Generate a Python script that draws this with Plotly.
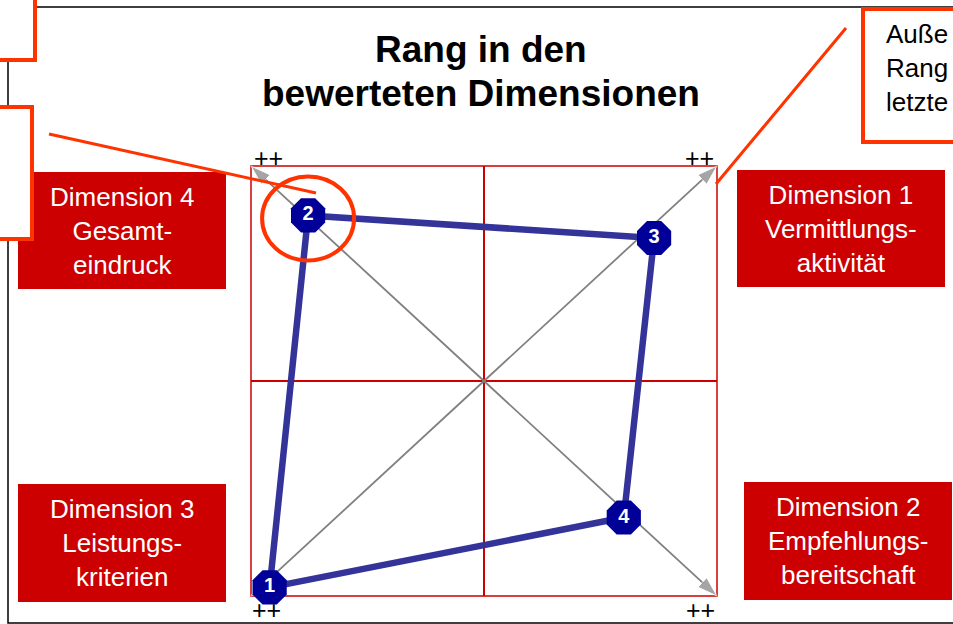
import plotly.graph_objects as go

# Rang je Dimension – Lage im Diagramm (Achsen -1 .. 1, Mitte = 0)
rank_labels = ['1', '2', '3', '4']
rank_x = [-0.92, -0.755, 0.73, 0.60]
rank_y = [-0.96, 0.77, 0.665, -0.635]

# Diagonale Achsen (Ecken des Quadrats)
corner_x = [-1, 1, 1, -1]
corner_y = [1, 1, -1, -1]
corner_marks = ['++', '++', '++', '++']

dim_titles = ['Dimension 1', 'Dimension 2', 'Dimension 3', 'Dimension 4']
dim_names = ['Vermittlungs-<br>aktivität', 'Empfehlungs-<br>bereitschaft',
             'Leistungs-<br>kriterien', 'Gesamt-<br>eindruck']

title_lines = ['Rang in den', 'bewerteten Dimensionen']
callout_text = 'Auße<br>Rang<br>letzte'

FONT = 'Arial, Liberation Sans, sans-serif'
RED = '#CC0000'
ORANGE = '#FF3300'

# Seitenmaß und Lage des Quadrats (Pixel)
W, H = 953, 624
L, R, T, B = 251, 717, 166, 596


def px(x):
    return (x - L) / (R - L)


def py(y):
    return (B - y) / (B - T)


def rect(x0, y0, x1, y1, **kw):
    return dict(type='rect', xref='paper', yref='paper',
                x0=px(x0), x1=px(x1), y0=py(y1), y1=py(y0), **kw)


fig = go.Figure()

# Diagonalen mit Pfeilspitzen
for cx, cy in zip(corner_x, corner_y):
    fig.add_trace(go.Scatter(
        x=[0, cx], y=[0, cy], mode='lines+markers',
        line=dict(color='#808080', width=1.8),
        marker=dict(symbol='arrow', size=[0, 21], angleref='previous',
                    color='#808080'),
        cliponaxis=False, hoverinfo='skip',
    ))

# Verbindungslinie der Ränge
fig.add_trace(go.Scatter(
    x=rank_x + rank_x[:1], y=rank_y + rank_y[:1], mode='lines',
    line=dict(color='#333399', width=6.5),
    cliponaxis=False, hoverinfo='skip',
))

# Rang-Marker
fig.add_trace(go.Scatter(
    x=rank_x, y=rank_y, mode='markers+text',
    text=rank_labels, textposition='middle center',
    textfont=dict(color='white', size=20, family=FONT, weight='bold'),
    marker=dict(symbol='octagon', size=37, color='#000099', line=dict(width=0)),
    cliponaxis=False, hoverinfo='skip',
))

shapes = [
    # äußerer Rahmen
    rect(8, 7, 1000, 623, line=dict(color='black', width=1.5), layer='below'),
    # Quadrat + Mittellinien
    dict(type='rect', xref='paper', yref='paper', x0=0, x1=1, y0=0, y1=1,
         line=dict(color=RED, width=1.5), layer='below'),
    dict(type='line', xref='x', yref='paper', x0=0, x1=0, y0=0, y1=1,
         line=dict(color=RED, width=2), layer='below'),
    dict(type='line', xref='paper', yref='y', x0=0, x1=1, y0=0, y1=0,
         line=dict(color=RED, width=2), layer='below'),
]

# rote Dimensionskästen
dim_boxes = [(737, 170, 945, 287), (744, 482, 952, 600),
             (18, 484, 226, 602), (18, 172, 226, 289)]
for x0, y0, x1, y1 in dim_boxes:
    shapes.append(rect(x0, y0, x1, y1, fillcolor=RED, line=dict(width=0)))

# Hinweiskästen (angeschnitten)
for x0, y0, x1, y1 in [(-20, -20, 35, 60), (-20, 107, 32, 239), (863, 9, 1000, 142)]:
    shapes.append(rect(x0, y0, x1, y1, fillcolor='white',
                       line=dict(color=ORANGE, width=4)))

# Hinweislinien
for x0, y0, x1, y1 in [(49, 134, 316, 193), (846, 28, 716, 184)]:
    shapes.append(dict(type='line', xref='paper', yref='paper',
                       x0=px(x0), y0=py(y0), x1=px(x1), y1=py(y1),
                       line=dict(color=ORANGE, width=3)))

# Kreis um Rang 2
shapes.append(dict(type='circle', xref='x', yref='y',
                   xsizemode='pixel', ysizemode='pixel',
                   xanchor=rank_x[1], yanchor=rank_y[1],
                   x0=-46, x1=46, y0=-45, y1=39,
                   line=dict(color=ORANGE, width=4)))

annotations = [
    dict(text=callout_text, xref='paper', yref='paper', x=px(884), y=py(68),
         xanchor='left', yanchor='middle', align='left', showarrow=False,
         font=dict(family=FONT, size=26, color='black')),
]

for line, ty in zip(title_lines, [50, 93]):
    annotations.append(dict(
        text=f'<b>{line}</b>', xref='paper', yref='paper', x=px(481), y=py(ty),
        xanchor='center', yanchor='middle', showarrow=False,
        font=dict(family=FONT, size=37, color='black'),
    ))

for (x0, y0, x1, y1), t, n in zip(dim_boxes, dim_titles, dim_names):
    annotations.append(dict(
        text=f'{t}<br>{n}', xref='paper', yref='paper',
        x=px((x0 + x1) / 2), y=py((y0 + y1) / 2),
        xanchor='center', yanchor='middle', showarrow=False,
        font=dict(family=FONT, size=26, color='white'),
    ))

for (mx, my), t in zip([(268, 158), (699, 158), (700, 610), (266, 610)], corner_marks):
    annotations.append(dict(
        text=t, xref='paper', yref='paper', x=px(mx), y=py(my),
        xanchor='center', yanchor='middle', showarrow=False,
        font=dict(family=FONT, size=25, color='black'),
    ))

fig.update_layout(
    width=W, height=H,
    margin=dict(l=L, r=W - R, t=T, b=H - B, pad=0),
    paper_bgcolor='white', plot_bgcolor='white',
    showlegend=False,
    xaxis=dict(range=[-1, 1], visible=False, fixedrange=True),
    yaxis=dict(range=[-1, 1], visible=False, fixedrange=True),
    shapes=shapes, annotations=annotations,
)

fig.write_html('out.html', config={'displayModeBar': False},
               post_script="document.body.style.margin='0';"
                           "document.body.style.overflow='hidden';")
